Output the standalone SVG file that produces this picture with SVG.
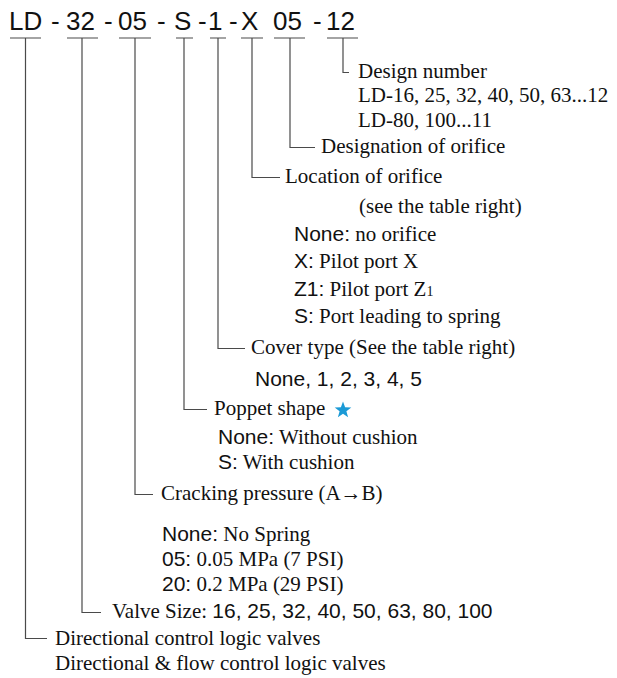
<svg xmlns="http://www.w3.org/2000/svg" width="617" height="678" viewBox="0 0 617 678">
<style>
.sr{font-family:"Liberation Serif","Times New Roman",serif;font-size:21px;fill:#111}
.ss{font-family:"Liberation Sans",Arial,sans-serif;font-size:21px;fill:#111}
.hd{font-family:"Liberation Sans",Arial,sans-serif;font-size:26px;fill:#111}
.ln{stroke:#4a4a4a;stroke-width:1.2;fill:none}
</style>
<rect width="617" height="678" fill="#fff"/>
<g id="code">
<text class="hd" y="29.5"><tspan x="9">LD</tspan><tspan x="51">-</tspan><tspan x="66">32</tspan><tspan x="104">-</tspan><tspan x="118">05</tspan><tspan x="157">-</tspan><tspan x="174">S</tspan><tspan x="198">-</tspan><tspan x="208">1</tspan><tspan x="229">-</tspan><tspan x="241">X</tspan><tspan x="273">05</tspan><tspan x="313">-</tspan><tspan x="326">12</tspan></text>
</g>
<g id="connectors">
<path class="ln" d="M10 38H41M25.5 38V638.5H47"/>
<path class="ln" d="M67 38H98M82 38V612.5H101"/>
<path class="ln" d="M119 38H151M135 38V494.5H153"/>
<path class="ln" d="M176 38H193M184 38V409.5H207"/>
<path class="ln" d="M210 38H226M218 38V348.5H245"/>
<path class="ln" d="M241 38H263M252 38V177.5H280"/>
<path class="ln" d="M274 38H305M290 38V147.5H315"/>
<path class="ln" d="M327 38H358M343 38V72.5H349"/>
</g>
<g id="design-number">
<text class="sr" x="358" y="78">Design number</text>
<text class="sr" x="358" y="102">LD-16, 25, 32, 40, 50, 63...12</text>
<text class="sr" x="358" y="127">LD-80, 100...11</text>
</g>
<g id="designation-orifice">
<text class="sr" x="321" y="153">Designation of orifice</text>
</g>
<g id="location-orifice">
<text class="sr" x="285" y="183">Location of orifice</text>
<text class="sr" x="359" y="213">(see the table right)</text>
<text class="sr" x="294" y="241"><tspan class="ss">None:</tspan> no orifice</text>
<text class="sr" x="294" y="268"><tspan class="ss">X:</tspan> Pilot port X</text>
<text class="sr" x="294" y="296"><tspan class="ss">Z1:</tspan> Pilot port Z<tspan font-size="14">1</tspan></text>
<text class="sr" x="294" y="323"><tspan class="ss">S:</tspan> Port leading to spring</text>
</g>
<g id="cover-type">
<text class="sr" x="251" y="354">Cover type (See the table right)</text>
<text class="ss" x="255" y="386">None, 1, 2, 3, 4, 5</text>
</g>
<g id="poppet-shape">
<text class="sr" x="214" y="415">Poppet shape</text>
<polygon fill="#1b9ad6" points="343,401.5 345.1,407.3 351.3,407.5 346.4,411.3 348.1,417.3 343,413.8 337.9,417.3 339.6,411.3 334.7,407.5 340.9,407.3"/>
<text class="sr" x="218" y="444"><tspan class="ss">None:</tspan> Without cushion</text>
<text class="sr" x="218" y="469"><tspan class="ss">S:</tspan> With cushion</text>
</g>
<g id="cracking-pressure">
<text class="sr" x="161" y="500">Cracking pressure (A→B)</text>
<text class="sr" x="162" y="541"><tspan class="ss">None:</tspan> No Spring</text>
<text class="sr" x="162" y="566"><tspan class="ss">05:</tspan> 0.05 MPa (7 PSI)</text>
<text class="sr" x="162" y="591"><tspan class="ss">20:</tspan> 0.2 MPa (29 PSI)</text>
</g>
<g id="valve-size">
<text class="sr" x="112" y="618">Valve Size: <tspan class="ss">16, 25, 32, 40, 50, 63, 80, 100</tspan></text>
</g>
<g id="valve-type">
<text class="sr" x="55" y="645">Directional control logic valves</text>
<text class="sr" x="55" y="670">Directional &amp; flow control logic valves</text>
</g>
</svg>
